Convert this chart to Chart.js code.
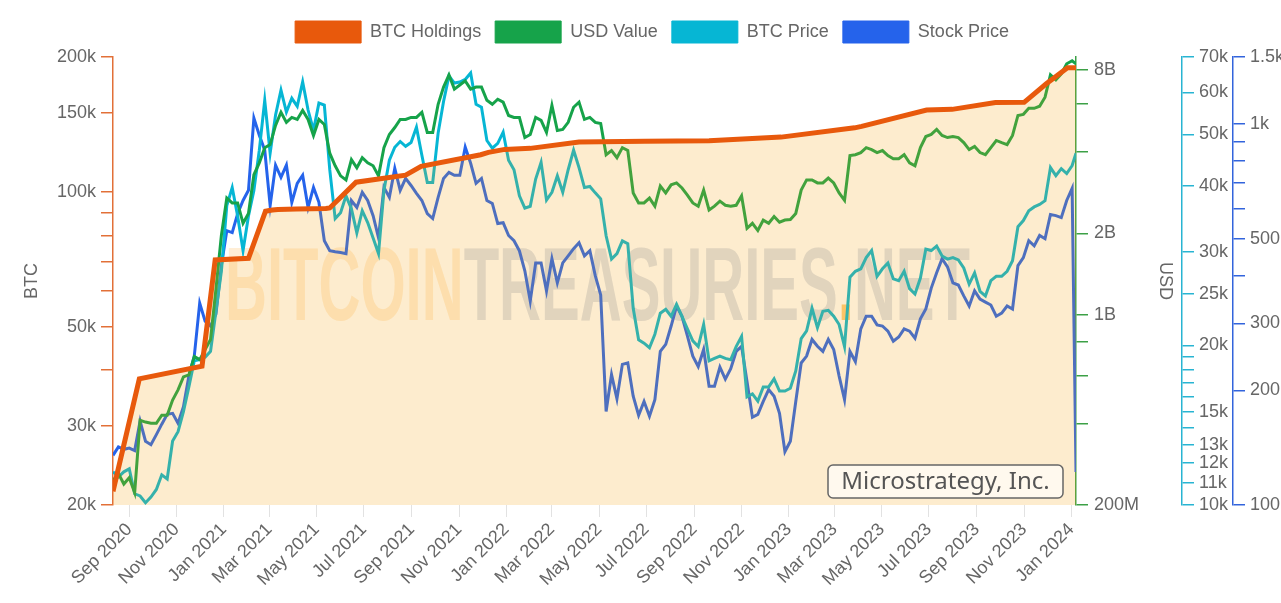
<!DOCTYPE html>
<html>
<head>
<meta charset="utf-8">
<script src="https://cdn.jsdelivr.net/npm/chart.js@4.4.1/dist/chart.umd.min.js"></script>
<style>
  html, body { margin: 0; padding: 0; background: #fff; overflow: hidden; }
  #wrap { width: 1304px; height: 603px; position: relative; }
</style>
</head>
<body>
<div id="wrap"><canvas id="chart"></canvas></div>
<script>
// weekly samples, first one on 11 Aug 2020, the last one is the partial week (7 Jan 2024)
const firstWeek = '2020-08-11';
const lastPoint = '2024-01-07';

// BTC price in thousands of USD
const btcPrice = [
  11.55, 11.3, 11.55, 11.7, 10.5, 10.4, 10.1, 10.35, 10.7, 11.4,
  11.2, 13.2, 13.75, 15.0, 16.7, 18.7, 18.8, 19.0, 19.5, 23.2,
  27.6, 36.7, 39.7, 35.1, 30.2, 35.1, 39.2, 46.7, 58.0, 46.1,
  54.4, 60.6, 55.1, 58.5, 56.5, 62.8, 55.6, 50.9, 57.3, 56.8,
  42.9, 34.7, 35.6, 38.3, 36.2, 32.6, 35.9, 34.1, 31.9, 29.8,
  39.2, 44.7, 47.3, 48.5, 47.5, 48.3, 51.6, 45.7, 40.6, 40.6,
  50.3, 57.7, 64.5, 62.5, 62.8, 63.5, 65.3, 57.0, 56.3, 48.7,
  47.1, 48.1, 50.5, 44.7, 42.9, 38.3, 36.3, 36.6, 41.2, 44.3,
  37.6, 38.9, 41.8, 38.9, 42.9, 46.7, 43.3, 39.7, 39.9, 38.8,
  37.8, 32.2, 29.1, 29.8, 31.5, 31.1, 23.5, 20.5, 20.2, 19.8,
  21.0, 23.0, 23.4, 22.7, 23.9, 22.7, 21.5, 20.4, 19.9, 21.9,
  18.7, 18.9, 19.1, 18.9, 18.8, 19.9, 20.8, 16.0, 16.2, 15.7,
  16.7, 16.7, 17.3, 16.4, 16.4, 16.6, 17.9, 20.6, 21.3, 23.5,
  21.6, 23.2, 23.3, 22.7, 21.9, 19.9, 26.9, 27.6, 27.9, 29.3,
  30.2, 27.0, 27.9, 28.6, 26.7, 26.5, 27.6, 25.6, 25.0, 26.8,
  30.4, 30.2, 30.8, 29.5, 29.1, 29.3, 29.0, 28.0, 26.1, 27.4,
  25.3, 24.8, 26.5, 27.0, 27.0, 27.6, 28.9, 33.5, 34.4, 35.9,
  36.5, 36.9, 37.5, 43.3, 41.8, 43.1, 42.2, 43.7, 46.1
];

// MSTR share price, USD
const stockPrice = [
  135, 142, 140, 141, 139, 166, 147, 144, 153, 163,
  173, 174, 164, 181, 218, 246, 339, 304, 295, 317,
  425, 525, 519, 582, 630, 670, 1037, 935, 854, 611,
  780, 725, 780, 623, 699, 734, 604, 682, 623, 494,
  465, 462, 460, 457, 630, 604, 662, 630, 575, 503,
  682, 642, 765, 670, 720, 690, 658, 630, 582, 565,
  642, 720, 747, 734, 734, 870, 789, 699, 720, 630,
  619, 548, 551, 510, 494, 465, 412, 343, 432, 432,
  365, 443, 383, 432, 451, 471, 488, 451, 465, 400,
  356, 176, 220, 190, 234, 236, 193, 172, 187, 171,
  189, 253, 264, 295, 333, 313, 278, 246, 231, 256,
  205, 205, 230, 214, 228, 253, 261, 211, 170, 173,
  187, 201, 193, 174, 138, 147, 187, 236, 246, 272,
  261, 253, 272, 256, 218, 189, 253, 238, 290, 313,
  313, 297, 295, 286, 269, 276, 290, 286, 274, 308,
  327, 371, 407, 443, 422, 383, 378, 354, 333, 365,
  347, 341, 335, 313, 319, 333, 327, 425, 446, 494,
  479, 510, 500, 579, 575, 568, 630, 678, 122
];

// USD value of the holdings, billions
const usdValue = [
  0.246, 0.261, 0.239, 0.252, 0.222, 0.410, 0.404, 0.400, 0.400, 0.428,
  0.428, 0.487, 0.531, 0.593, 0.603, 0.704, 0.686, 0.747, 0.814, 1.249,
  1.966, 2.70, 2.59, 2.59, 2.18, 2.37, 3.29, 3.64, 4.14, 4.25,
  5.00, 5.59, 5.13, 5.35, 5.26, 5.68, 5.26, 4.59, 5.26, 5.04,
  3.95, 3.55, 3.26, 3.15, 3.74, 3.49, 3.80, 3.64, 3.55, 3.26,
  4.14, 4.63, 4.91, 5.26, 5.26, 5.35, 5.35, 5.59, 4.71, 4.71,
  5.98, 6.92, 7.67, 6.80, 7.04, 7.29, 6.80, 6.92, 6.92, 6.19,
  5.98, 6.24, 6.09, 5.44, 5.35, 5.35, 4.51, 4.63, 5.35, 5.22,
  4.71, 5.93, 4.79, 4.83, 5.13, 5.83, 6.09, 5.26, 5.35, 5.13,
  5.08, 3.90, 4.04, 3.80, 4.14, 4.04, 2.82, 2.59, 2.59, 2.70,
  2.52, 2.99, 2.82, 3.02, 3.07, 2.94, 2.77, 2.59, 2.52, 2.89,
  2.44, 2.52, 2.63, 2.54, 2.52, 2.54, 2.75, 2.09, 2.18, 2.05,
  2.24, 2.18, 2.31, 2.20, 2.24, 2.25, 2.37, 2.89, 3.15, 3.15,
  3.07, 3.07, 3.20, 3.07, 2.82, 2.65, 3.87, 3.90, 3.97, 4.14,
  4.07, 3.97, 4.04, 3.87, 3.77, 3.77, 3.90, 3.64, 3.55, 4.14,
  4.55, 4.63, 4.83, 4.59, 4.51, 4.55, 4.51, 4.32, 4.07, 4.18,
  3.97, 3.90, 4.14, 4.40, 4.32, 4.25, 4.59, 5.44, 5.49, 5.78,
  5.78, 5.88, 6.35, 7.67, 7.35, 7.74, 8.43, 8.65, 8.43
];

// BTC held, one point per purchase
const holdingDates = [
  '2020-08-11', '2020-09-14', '2020-12-04', '2020-12-21', '2021-02-02', '2021-02-24',
  '2021-03-01', '2021-03-05', '2021-03-12', '2021-04-05', '2021-05-13', '2021-05-18',
  '2021-06-21', '2021-08-24', '2021-09-13', '2021-11-29', '2021-12-09', '2021-12-30',
  '2022-02-01', '2022-04-05', '2022-06-29', '2022-09-20', '2022-12-22', '2023-03-27',
  '2023-04-05', '2023-06-28', '2023-07-31', '2023-09-25', '2023-11-01', '2023-11-30',
  '2023-12-27', '2024-01-07'
];
const holdingValues = [
  21454, 38250, 40824, 70470, 71079, 90531,
  90859, 91064, 91326, 91579, 91850, 92079,
  105085, 108992, 114042, 121044, 122478, 124391,
  125051, 129218, 129699, 130000, 132500, 138955,
  140000, 152333, 152800, 158245, 158400, 174530,
  189150, 189150
];

const xTickLabels = ['Sep 2020', 'Nov 2020', 'Jan 2021', 'Mar 2021', 'May 2021', 'Jul 2021',
  'Sep 2021', 'Nov 2021', 'Jan 2022', 'Mar 2022', 'May 2022', 'Jul 2022', 'Sep 2022',
  'Nov 2022', 'Jan 2023', 'Mar 2023', 'May 2023', 'Jul 2023', 'Sep 2023', 'Nov 2023', 'Jan 2024'];

const btcTicks = [20000, 30000, 40000, 50000, 60000, 70000, 80000, 90000, 100000, 150000, 200000];
const btcTickLabels = ['20k', '30k', '', '50k', '', '', '', '', '100k', '150k', '200k'];
const usdTicks = [0.2, 0.4, 0.6, 0.8, 1, 2, 4, 6, 8];
const usdTickLabels = ['200M', '', '', '', '1B', '2B', '', '', '8B'];
const priceTicks = [10, 11, 12, 13, 14, 15, 16, 17, 18, 19, 20, 25, 30, 40, 50, 60, 70];
const priceTickLabels = ['10k', '11k', '12k', '13k', '', '15k', '', '', '', '', '20k', '25k', '30k', '40k', '50k', '60k', '70k'];
const stockTicks = [100, 200, 300, 400, 500, 600, 700, 800, 900, 1000, 1500];
const stockTickLabels = ['100', '200', '300', '', '500', '', '', '', '', '1k', '1.5k'];

const companyName = 'Microstrategy, Inc.';

// ---------------------------------------------------------------

const DAY = 86400000;
const startMs = Date.parse(firstWeek + 'T00:00:00Z');
const endMs = Date.parse(lastPoint + 'T00:00:00Z');

function weeklyPoints(values) {
  return values.map((v, i) => ({
    x: i === values.length - 1 ? endMs : startMs + i * 7 * DAY,
    y: v
  }));
}

const holdingPoints = holdingDates.map((d, i) => ({ x: Date.parse(d + 'T00:00:00Z'), y: holdingValues[i] }));

const orange = '#E8590C';
const green = '#16A34A';
const cyan = '#06B6D4';
const blue = '#2563EB';
const legendColors = [orange, green, cyan, blue];

Chart.defaults.font.family = '"Liberation Sans", Arial, sans-serif';
Chart.defaults.font.size = 18;
Chart.defaults.color = '#666';

// keeps the legend band a fixed height so the plot starts where the original does
const legendHeight = {
  id: 'legendHeight',
  beforeInit(chart) {
    const fit = chart.legend.fit;
    chart.legend.fit = function () {
      fit.call(this);
      this.height = 50;
    };
  }
};

// big site watermark behind the lines
const watermark = {
  id: 'watermark',
  beforeDatasetsDraw(chart) {
    const ctx = chart.ctx;
    const a = chart.chartArea;
    const parts = [
      ['BITCOIN', 'rgb(255,238,214)'],
      ['TREASURIES', 'rgb(220,225,234)'],
      ['.', 'rgb(255,205,125)'],
      ['NET', 'rgb(220,225,234)']
    ];
    ctx.save();
    ctx.font = 'bold 104px "Liberation Sans", Arial, sans-serif';
    ctx.textAlign = 'left';
    ctx.textBaseline = 'alphabetic';
    let total = 0;
    parts.forEach(p => { total += ctx.measureText(p[0]).width; });
    ctx.translate(a.left + 112, a.top + 263);
    ctx.scale(745 / total, 1);
    let x = 0;
    parts.forEach(p => {
      ctx.fillStyle = p[1];
      ctx.fillText(p[0], x, 0);
      x += ctx.measureText(p[0]).width;
    });
    ctx.restore();
  }
};

const nameBox = {
  id: 'nameBox',
  afterDraw(chart) {
    const ctx = chart.ctx;
    const a = chart.chartArea;
    const w = 235, h = 33;
    const x = a.right - 13 - w;
    const y = a.bottom - 7 - h;
    ctx.save();
    ctx.beginPath();
    ctx.roundRect(x, y, w, h, 5);
    ctx.fillStyle = 'rgba(255,255,255,0.65)';
    ctx.fill();
    ctx.lineWidth = 1.5;
    ctx.strokeStyle = '#666';
    ctx.stroke();
    ctx.font = '24px "Noto Sans", sans-serif';
    ctx.fillStyle = '#555';
    ctx.textAlign = 'center';
    ctx.textBaseline = 'middle';
    ctx.fillText(companyName, x + w / 2, y + h / 2 + 1);
    ctx.restore();
  }
};

function logAxis(position, min, max, tickValues, tickLabels, color, width) {
  return {
    type: 'logarithmic',
    position: position,
    min: min,
    max: max,
    bounds: 'data',
    afterBuildTicks(scale) { scale.ticks = tickValues.map(v => ({ value: v })); },
    afterFit(scale) { scale.width = width; },
    ticks: {
      autoSkip: false,
      padding: 5,
      color: '#666',
      callback: (v, i) => tickLabels[i]
    },
    grid: { drawOnChartArea: false, tickLength: 12, color: color, lineWidth: 1.5 },
    border: { display: true, color: color, width: 1.5 }
  };
}

const yBtc = logAxis('left', 20000, 200000, btcTicks, btcTickLabels, 'rgb(226,112,56)', 113);
yBtc.title = { display: true, text: 'BTC', color: '#666', font: { size: 18 }, padding: { top: 21, bottom: 0 } };

const yUsd = logAxis('right', 0.2, 8.93, usdTicks, usdTickLabels, 'rgb(60,160,70)', 106);
yUsd.ticks.padding = 6;
yUsd.title = { display: true, text: 'USD', color: '#666', font: { size: 18 }, padding: { top: 6, bottom: 0 } };

const yPrice = logAxis('right', 10, 70, priceTicks, priceTickLabels, 'rgb(40,180,210)', 51);
const yStock = logAxis('right', 100, 1500, stockTicks, stockTickLabels, 'rgb(50,100,220)', 71);

new Chart(document.getElementById('chart'), {
  type: 'line',
  data: {
    datasets: [
      {
        label: 'BTC Holdings',
        data: holdingPoints,
        yAxisID: 'y',
        borderColor: orange,
        borderWidth: 5,
        backgroundColor: 'rgba(245,158,11,0.2)',
        fill: 'start',
        pointRadius: 0
      },
      {
        label: 'USD Value',
        data: weeklyPoints(usdValue),
        yAxisID: 'yUsd',
        borderColor: green,
        borderWidth: 3,
        pointRadius: 0
      },
      {
        label: 'BTC Price',
        data: weeklyPoints(btcPrice),
        yAxisID: 'yPrice',
        borderColor: cyan,
        borderWidth: 3,
        pointRadius: 0
      },
      {
        label: 'Stock Price',
        data: weeklyPoints(stockPrice),
        yAxisID: 'yStock',
        borderColor: blue,
        borderWidth: 3,
        pointRadius: 0
      }
    ]
  },
  options: {
    responsive: true,
    maintainAspectRatio: false,
    animation: false,
    layout: { padding: { top: 7 } },
    elements: { line: { tension: 0 } },
    plugins: {
      tooltip: { enabled: false },
      legend: {
        position: 'top',
        labels: {
          boxWidth: 66,
          boxHeight: 22,
          padding: 14,
          color: '#666',
          font: { size: 18 },
          generateLabels(chart) {
            const items = Chart.defaults.plugins.legend.labels.generateLabels(chart);
            items.forEach((it, i) => {
              it.fillStyle = legendColors[i];
              it.strokeStyle = legendColors[i];
              it.lineWidth = 1;
            });
            return items;
          }
        }
      }
    },
    scales: {
      x: {
        type: 'linear',
        min: startMs,
        max: endMs,
        bounds: 'data',
        afterBuildTicks(scale) {
          scale.ticks = xTickLabels.map((l, k) => ({ value: Date.UTC(2020, 8 + 2 * k, 1) }));
        },
        afterFit(scale) { scale.height = 98; },
        ticks: {
          autoSkip: false,
          minRotation: 45,
          maxRotation: 45,
          padding: 2,
          color: '#666',
          callback: (v, i) => xTickLabels[i]
        },
        grid: { drawOnChartArea: false, tickLength: 12, color: '#e2e2e2' },
        border: { display: false }
      },
      y: yBtc,
      yUsd: yUsd,
      yPrice: yPrice,
      yStock: yStock
    }
  },
  plugins: [legendHeight, watermark, nameBox]
});
</script>
</body>
</html>
